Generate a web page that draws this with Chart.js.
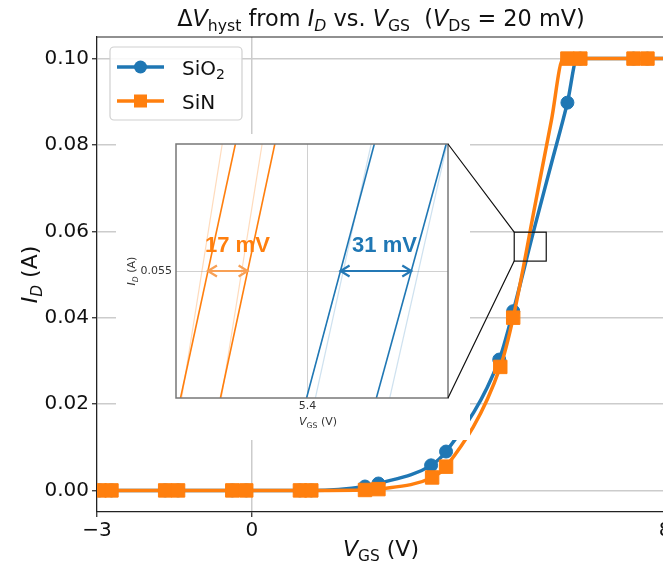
<!DOCTYPE html>
<html>
<head>
<meta charset="utf-8">
<script src="https://cdn.jsdelivr.net/npm/chart.js@4.4.1/dist/chart.umd.min.js"></script>
<style>
  html, body { margin: 0; padding: 0; background: #fff; overflow: hidden; }
  #wrap { position: relative; width: 700px; height: 565px; }
  #wrap canvas { position: absolute; left: 0; top: 0; }
  #insetChart { pointer-events: none; }
</style>
</head>
<body>
<div id="wrap">
  <canvas id="mainChart" width="700" height="565"></canvas>
  <canvas id="insetChart" width="700" height="565"></canvas>
</div>
<script>
// ---- main transfer curves: marker points (V_GS in V, I_D in A)
const sio2V = [-2.95, -2.72, -1.68, -1.43, -0.38, -0.11, 0.93, 1.15, 2.19, 2.45, 3.47, 3.76, 4.79, 5.06, 6.11, 6.36, 7.39, 7.66];
const sio2I = [0, 0, 0, 0, 0, 0, 0, 0, 0.0009, 0.0016, 0.0058, 0.0090, 0.0303, 0.0415, 0.0898, 0.100, 0.100, 0.100];
const sinV = [-2.95, -2.72, -1.68, -1.43, -0.38, -0.11, 0.93, 1.15, 2.19, 2.45, 3.49, 3.76, 4.81, 5.06, 6.11, 6.36, 7.39, 7.66];
const sinI = [0, 0, 0, 0, 0, 0, 0, 0, 0.0001, 0.0003, 0.0030, 0.0055, 0.0286, 0.0400, 0.100, 0.100, 0.100, 0.100];
// points on the curves that carry no marker (steep part, saturation corner, right edge)
const sio2CurveV = [5.45, 5.80, 6.30, 8.0];
const sio2CurveI = [0.0598, 0.0757, 0.100, 0.100];
const sinCurveV = [5.50, 5.80, 6.03, 8.0];
const sinCurveI = [0.0671, 0.0857, 0.100, 0.100];

const xTicks = [-3, 0, 8];
const yTicks = [0, 0.02, 0.04, 0.06, 0.08, 0.10];

// zoomed window shown in the inset (main chart data coords)
const zoomV = [5.08, 5.70];
const zoomI = [0.0531, 0.0598];

// ---- inset: each sweep is a straight segment between I_D = 0.054 and 0.056
const insetI = [0.054, 0.056];
const insetTicksV = [5.4];
const insetTicksI = [0.055];
const sinSweepA = [5.3440, 5.3682];
const sinSweepB = [5.3616, 5.3856];
const sinRefA = [5.3445, 5.3624];
const sinRefB = [5.3620, 5.3800];
const sio2SweepA = [5.3996, 5.4295];
const sio2SweepB = [5.4304, 5.4612];
const sio2RefA = [5.4035, 5.4281];
const sio2RefB = [5.4363, 5.4616];
// hysteresis arrows at I_D = 0.055
const arrowI = 0.055;
const sinArrowV = [5.3561, 5.3736];
const sio2ArrowV = [5.4146, 5.4458];
const sinLabel = { v: 5.3691, i: 0.0552, text: '17 mV' };
const sio2Label = { v: 5.4340, i: 0.0552, text: '31 mV' };

const BLUE = '#1f77b4';
const ORANGE = '#ff7f0e';
const FONT = '"DejaVu Sans", sans-serif';

function buildSeries(markV, markI, curveV, curveI) {
    const pts = markV.map((v, i) => ({ x: v, y: markI[i], m: true }))
        .concat(curveV.map((v, i) => ({ x: v, y: curveI[i], m: false })));
    return pts.sort((a, b) => a.x - b.x);
}

function runFont(r, size) {
    const s = r.sub ? size * 0.7 : size;
    return (r.it ? 'italic ' : '') + s + 'px ' + FONT;
}

// draws text made of runs (italic / subscript), y is baseline
function drawRich(ctx, runs, x, y, size, align) {
    ctx.textAlign = 'left';
    ctx.textBaseline = 'alphabetic';
    let w = 0;
    runs.forEach(r => { ctx.font = runFont(r, size); w += ctx.measureText(r.t).width; });
    let cx = align === 'center' ? x - w / 2 : x;
    runs.forEach(r => {
        ctx.font = runFont(r, size);
        ctx.fillText(r.t, cx, y + (r.sub ? size * 0.24 : 0));
        cx += ctx.measureText(r.t).width;
    });
}

const titleRuns = [
    { t: '\u0394' }, { t: 'V', it: 1 }, { t: 'hyst', sub: 1 }, { t: ' from ' },
    { t: 'I', it: 1 }, { t: 'D', it: 1, sub: 1 }, { t: ' vs. ' },
    { t: 'V', it: 1 }, { t: 'GS', sub: 1 }, { t: '  (' },
    { t: 'V', it: 1 }, { t: 'DS', sub: 1 }, { t: ' = 20 mV)' }
];
const xLabelRuns = [{ t: 'V', it: 1 }, { t: 'GS', sub: 1 }, { t: ' (V)' }];
const yLabelRuns = [{ t: 'I', it: 1 }, { t: 'D', it: 1, sub: 1 }, { t: ' (A)' }];

const mainDecor = {
    id: 'mainDecor',
    afterDatasetsDraw(chart) {
        const ctx = chart.ctx, a = chart.chartArea;
        const sx = chart.scales.x, sy = chart.scales.y;
        ctx.save();
        // top spine
        ctx.strokeStyle = '#222';
        ctx.lineWidth = 1.2;
        ctx.beginPath();
        ctx.moveTo(a.left, a.top);
        ctx.lineTo(a.right, a.top);
        ctx.stroke();
        // zoom window
        ctx.strokeStyle = '#111';
        ctx.lineWidth = 1.2;
        const x0 = sx.getPixelForValue(zoomV[0]), x1 = sx.getPixelForValue(zoomV[1]);
        const y0 = sy.getPixelForValue(zoomI[1]), y1 = sy.getPixelForValue(zoomI[0]);
        ctx.strokeRect(x0, y0, x1 - x0, y1 - y0);
        ctx.restore();
    },
    afterDraw(chart) {
        const ctx = chart.ctx, a = chart.chartArea;
        ctx.save();
        ctx.fillStyle = '#111';
        drawRich(ctx, titleRuns, (a.left + a.right) / 2, 26, 22.4, 'center');
        drawRich(ctx, xLabelRuns, (a.left + a.right) / 2, 556, 22, 'center');
        ctx.translate(37, (a.top + a.bottom) / 2);
        ctx.rotate(-Math.PI / 2);
        drawRich(ctx, yLabelRuns, 0, 0, 22, 'center');
        ctx.restore();

        // legend
        ctx.save();
        const lx = a.left + 13, ly = a.top + 10, lw = 132, lh = 73;
        ctx.fillStyle = 'rgba(255,255,255,0.85)';
        ctx.strokeStyle = '#d0d0d0';
        ctx.lineWidth = 1.2;
        ctx.beginPath();
        ctx.roundRect(lx, ly, lw, lh, 4);
        ctx.fill();
        ctx.stroke();
        const rows = [
            { ds: chart.data.datasets[0], y: ly + 20, runs: [{ t: 'SiO' }, { t: '2', sub: 1 }] },
            { ds: chart.data.datasets[1], y: ly + 54, runs: [{ t: 'SiN' }] }
        ];
        rows.forEach(r => {
            ctx.strokeStyle = r.ds.borderColor;
            ctx.lineWidth = 3.5;
            ctx.beginPath();
            ctx.moveTo(lx + 7, r.y);
            ctx.lineTo(lx + 54, r.y);
            ctx.stroke();
            ctx.fillStyle = r.ds.borderColor;
            if (r.ds.pointStyle === 'circle') {
                ctx.beginPath();
                ctx.arc(lx + 30.5, r.y, 6.5, 0, Math.PI * 2);
                ctx.fill();
            } else {
                ctx.fillRect(lx + 24, r.y - 6.5, 13, 13);
            }
            ctx.fillStyle = '#111';
            drawRich(ctx, r.runs, lx + 72, r.y + 7.5, 20, 'left');
        });
        ctx.restore();
    }
};

const mainChart = new Chart(document.getElementById('mainChart'), {
    type: 'line',
    data: {
        datasets: [
            {
                label: 'SiO2',
                data: buildSeries(sio2V, sio2I, sio2CurveV, sio2CurveI),
                borderColor: BLUE,
                backgroundColor: BLUE,
                borderWidth: 3.5,
                pointStyle: 'circle',
                pointRadius: c => (c.raw && c.raw.m ? 6.5 : 0),
                pointBorderWidth: 1,
                cubicInterpolationMode: 'monotone',
                fill: false,
                order: 1
            },
            {
                label: 'SiN',
                data: buildSeries(sinV, sinI, sinCurveV, sinCurveI),
                borderColor: ORANGE,
                backgroundColor: ORANGE,
                borderWidth: 3.5,
                pointStyle: 'rect',
                pointRadius: c => (c.raw && c.raw.m ? 9.5 : 0),
                pointBorderWidth: 1,
                cubicInterpolationMode: 'monotone',
                fill: false,
                order: 0
            }
        ]
    },
    options: {
        responsive: false,
        animation: false,
        layout: { padding: { top: 37, right: 35, left: 0, bottom: 0 } },
        plugins: { legend: { display: false }, title: { display: false }, tooltip: { enabled: false } },
        scales: {
            x: {
                type: 'linear',
                min: -3,
                max: 8,
                afterBuildTicks: s => { s.ticks = xTicks.map(v => ({ value: v })); },
                afterFit: s => { s.height = 53; },
                ticks: {
                    autoSkip: false,
                    maxRotation: 0,
                    padding: 2,
                    color: '#111',
                    font: { family: FONT, size: 20 },
                    callback: v => (v < 0 ? '\u2212' + Math.abs(v) : String(v))
                },
                grid: { color: '#cccccc', lineWidth: 1.5, tickColor: '#222', tickLength: 5, tickWidth: 1.2 },
                border: { color: '#222', width: 1.2 }
            },
            y: {
                type: 'linear',
                min: -0.005,
                max: 0.105,
                afterBuildTicks: s => { s.ticks = yTicks.map(v => ({ value: v })); },
                afterFit: s => { s.width = 97; },
                ticks: {
                    autoSkip: false,
                    padding: 3,
                    color: '#111',
                    font: { family: FONT, size: 20 },
                    callback: v => v.toFixed(2)
                },
                grid: { color: '#cccccc', lineWidth: 1.5, tickColor: '#222', tickLength: 5, tickWidth: 1.2 },
                border: { color: '#222', width: 1.2 }
            }
        }
    },
    plugins: [mainDecor]
});

function drawArrow(ctx, x1, x2, y, color) {
    const h = 9, hw = 5.5;
    ctx.strokeStyle = color;
    ctx.lineWidth = 2.2;
    ctx.beginPath();
    ctx.moveTo(x1, y);
    ctx.lineTo(x2, y);
    ctx.moveTo(x1 + h, y - hw);
    ctx.lineTo(x1, y);
    ctx.lineTo(x1 + h, y + hw);
    ctx.moveTo(x2 - h, y - hw);
    ctx.lineTo(x2, y);
    ctx.lineTo(x2 - h, y + hw);
    ctx.stroke();
}

const insetDecor = {
    id: 'insetDecor',
    beforeDraw(chart) {
        // white patch behind the inset (covers the main curves there)
        const ctx = chart.ctx, a = chart.chartArea;
        ctx.save();
        ctx.fillStyle = '#ffffff';
        ctx.fillRect(a.left - 60, a.top - 10, a.right - a.left + 82, a.bottom - a.top + 52);
        ctx.restore();
    },
    afterDatasetsDraw(chart) {
        const ctx = chart.ctx, a = chart.chartArea;
        const sx = chart.scales.x, sy = chart.scales.y;
        ctx.save();
        ctx.strokeStyle = '#777';
        ctx.lineWidth = 1.5;
        ctx.strokeRect(a.left, a.top, a.right - a.left, a.bottom - a.top);

        const ya = sy.getPixelForValue(arrowI);
        drawArrow(ctx, sx.getPixelForValue(sinArrowV[0]), sx.getPixelForValue(sinArrowV[1]), ya, '#f8a055');
        drawArrow(ctx, sx.getPixelForValue(sio2ArrowV[0]), sx.getPixelForValue(sio2ArrowV[1]), ya, '#2478b5');

        ctx.font = 'bold 22px "Liberation Sans", Arial, sans-serif';
        ctx.textAlign = 'center';
        ctx.textBaseline = 'middle';
        ctx.fillStyle = ORANGE;
        ctx.fillText(sinLabel.text, sx.getPixelForValue(sinLabel.v), sy.getPixelForValue(sinLabel.i));
        ctx.fillStyle = BLUE;
        ctx.fillText(sio2Label.text, sx.getPixelForValue(sio2Label.v), sy.getPixelForValue(sio2Label.i));

        // inset axis labels
        ctx.fillStyle = '#333';
        drawRich(ctx, xLabelRuns, (a.left + a.right) / 2 + 6, a.bottom + 27, 11, 'center');
        ctx.translate(a.left - 41, (a.top + a.bottom) / 2);
        ctx.rotate(-Math.PI / 2);
        drawRich(ctx, yLabelRuns, 0, 0, 11, 'center');
        ctx.restore();
    },
    afterDraw(chart) {
        // connector lines from inset corners to the zoom window
        const ctx = chart.ctx, a = chart.chartArea;
        const mx = mainChart.scales.x, my = mainChart.scales.y;
        const zx = mx.getPixelForValue(zoomV[0]);
        ctx.save();
        ctx.strokeStyle = '#111';
        ctx.lineWidth = 1.2;
        ctx.beginPath();
        ctx.moveTo(a.right, a.top);
        ctx.lineTo(zx, my.getPixelForValue(zoomI[1]));
        ctx.moveTo(a.right, a.bottom);
        ctx.lineTo(zx, my.getPixelForValue(zoomI[0]));
        ctx.stroke();
        ctx.restore();
    }
};

function seg(v, color, width) {
    return {
        data: v.map((x, i) => ({ x: x, y: insetI[i] })),
        borderColor: color,
        borderWidth: width,
        pointRadius: 0,
        fill: false
    };
}

new Chart(document.getElementById('insetChart'), {
    type: 'line',
    data: {
        datasets: [
            seg(sinRefA, 'rgba(255,127,14,0.28)', 1.2),
            seg(sinRefB, 'rgba(255,127,14,0.28)', 1.2),
            seg(sio2RefA, 'rgba(31,119,180,0.22)', 1.2),
            seg(sio2RefB, 'rgba(31,119,180,0.22)', 1.2),
            seg(sinSweepA, ORANGE, 1.6),
            seg(sinSweepB, ORANGE, 1.6),
            seg(sio2SweepA, BLUE, 1.6),
            seg(sio2SweepB, BLUE, 1.6)
        ]
    },
    options: {
        responsive: false,
        animation: false,
        layout: { padding: { left: 126, top: 144, right: 252, bottom: 137 } },
        plugins: { legend: { display: false }, title: { display: false }, tooltip: { enabled: false } },
        scales: {
            x: {
                type: 'linear',
                min: 5.342,
                max: 5.462,
                afterBuildTicks: s => { s.ticks = insetTicksV.map(v => ({ value: v })); },
                afterFit: s => { s.height = 30; },
                ticks: { autoSkip: false, maxRotation: 0, padding: 2, color: '#333', font: { family: FONT, size: 11 }, callback: v => v.toFixed(1) },
                grid: { color: '#d0d0d0', lineWidth: 1, drawTicks: false },
                border: { display: false }
            },
            y: {
                type: 'linear',
                min: insetI[0],
                max: insetI[1],
                afterBuildTicks: s => { s.ticks = insetTicksI.map(v => ({ value: v })); },
                afterFit: s => { s.width = 50; },
                ticks: { autoSkip: false, padding: 4, color: '#333', font: { family: FONT, size: 11 }, callback: v => v.toFixed(3) },
                grid: { color: '#d0d0d0', lineWidth: 1, drawTicks: false },
                border: { display: false }
            }
        }
    },
    plugins: [insetDecor]
});
</script>
</body>
</html>
